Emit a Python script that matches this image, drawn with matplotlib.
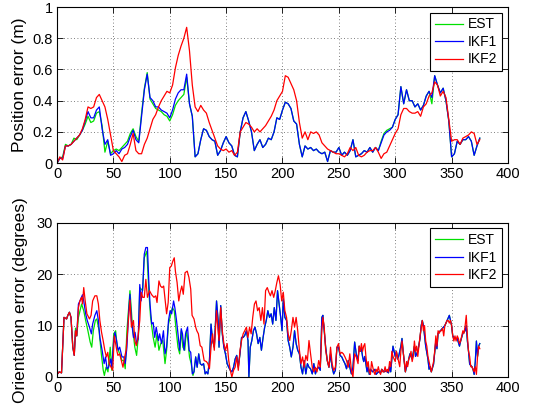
import numpy as np
import matplotlib
matplotlib.use("Agg")
import matplotlib.pyplot as plt

plt.rcParams['font.family'] = ['Liberation Sans', 'DejaVu Sans']

# ---------------- top panel: position error (samples every 2.5 units) ----
t = [2.5 * i for i in range(151)]

pos_est = [
    0.00,0.03,0.04,0.12,0.11,0.12,0.16,0.15,0.18,0.21,
    0.25,0.30,0.26,0.27,0.32,0.33,0.24,0.07,0.14,0.06,
    0.08,0.09,0.08,0.10,0.12,0.14,0.19,0.22,0.17,0.14,
    0.32,0.48,0.58,0.41,0.38,0.35,0.34,0.33,0.31,0.30,
    0.27,0.31,0.37,0.40,0.42,0.44,0.55,0.38,0.30,0.04,
    0.06,0.15,0.22,0.21,0.17,0.15,0.14,0.05,0.08,0.13,
    0.17,0.13,0.11,0.05,0.04,0.20,0.29,0.33,0.27,0.20,
    0.08,0.12,0.15,0.10,0.12,0.16,0.15,0.20,0.29,0.28,
    0.34,0.39,0.38,0.35,0.27,0.25,0.12,0.04,0.11,0.09,
    0.10,0.08,0.09,0.07,0.06,0.07,0.01,0.08,0.07,0.07,
    0.10,0.05,0.07,0.05,0.08,0.15,0.04,0.05,0.06,0.08,
    0.07,0.10,0.07,0.10,0.08,0.14,0.19,0.21,0.22,0.23,
    0.28,0.31,0.49,0.38,0.47,0.40,0.40,0.36,0.38,0.34,
    0.37,0.43,0.46,0.38,0.56,0.50,0.45,0.48,0.40,0.27,
    0.04,0.06,0.14,0.12,0.15,0.15,0.17,0.14,0.05,0.11,
    0.16]

pos_ikf1 = [
    0.00,0.03,0.03,0.11,0.11,0.12,0.14,0.16,0.18,0.21,
    0.27,0.33,0.29,0.29,0.34,0.36,0.22,0.12,0.15,0.05,
    0.06,0.08,0.06,0.09,0.10,0.12,0.17,0.21,0.15,0.13,
    0.30,0.47,0.57,0.42,0.40,0.36,0.36,0.34,0.33,0.32,
    0.29,0.34,0.41,0.45,0.47,0.47,0.57,0.38,0.30,0.04,
    0.06,0.15,0.22,0.21,0.17,0.15,0.14,0.05,0.08,0.13,
    0.17,0.13,0.11,0.05,0.04,0.20,0.29,0.33,0.27,0.20,
    0.08,0.12,0.15,0.10,0.12,0.16,0.15,0.20,0.29,0.28,
    0.34,0.39,0.38,0.35,0.27,0.25,0.12,0.04,0.11,0.09,
    0.10,0.08,0.09,0.07,0.06,0.07,0.01,0.08,0.07,0.07,
    0.10,0.05,0.07,0.05,0.08,0.15,0.04,0.05,0.06,0.08,
    0.07,0.10,0.07,0.10,0.08,0.13,0.18,0.20,0.21,0.23,
    0.28,0.31,0.49,0.38,0.47,0.40,0.40,0.36,0.38,0.34,
    0.37,0.43,0.46,0.42,0.56,0.50,0.45,0.48,0.40,0.27,
    0.04,0.06,0.14,0.12,0.15,0.15,0.17,0.14,0.05,0.11,
    0.16]

pos_ikf2 = [
    0.00,0.04,0.02,0.11,0.11,0.12,0.14,0.16,0.18,0.22,
    0.28,0.36,0.35,0.36,0.42,0.44,0.40,0.36,0.28,0.18,
    0.08,0.06,0.04,0.01,0.05,0.06,0.12,0.19,0.08,0.06,
    0.06,0.12,0.16,0.22,0.28,0.31,0.36,0.40,0.43,0.46,
    0.45,0.50,0.61,0.69,0.75,0.80,0.87,0.72,0.50,0.36,
    0.33,0.37,0.34,0.32,0.26,0.21,0.16,0.11,0.09,0.08,
    0.09,0.07,0.08,0.05,0.07,0.20,0.23,0.26,0.25,0.23,
    0.20,0.22,0.20,0.22,0.24,0.27,0.30,0.34,0.40,0.43,
    0.46,0.56,0.55,0.51,0.47,0.40,0.26,0.16,0.20,0.15,
    0.20,0.19,0.20,0.18,0.13,0.11,0.09,0.08,0.07,0.06,
    0.06,0.05,0.04,0.06,0.10,0.08,0.10,0.05,0.04,0.05,
    0.07,0.08,0.08,0.10,0.07,0.03,0.06,0.07,0.11,0.15,
    0.19,0.22,0.31,0.35,0.35,0.33,0.32,0.32,0.33,0.30,
    0.36,0.38,0.43,0.45,0.52,0.50,0.43,0.46,0.42,0.28,
    0.14,0.15,0.15,0.12,0.16,0.17,0.18,0.20,0.19,0.12,
    0.15]

# ---------------- bottom panel: orientation error, (time, degrees) -------
ori_est_pts = [
    (0,0.5),(2,1),(4,0.8),(6.2,11.6),(8.5,11.3),(9.6,12),(11,12.6),(12.4,11.6),
    (14,5.8),(15.3,4.2),(16.4,9.5),(17.5,8),(19,11.6),(21.8,14.2),(23.7,12.9),
    (25.4,11),(27.4,9),(29.4,6.8),(30.8,5.8),(32.2,9),(34,11),(35.3,11.3),
    (37.3,9),(39.3,4.5),(41,1.3),(42,0.3),(43.5,1.9),(45.2,1),(47.2,5.8),
    (48.6,1.3),(50.3,8.4),(52,9),(53.4,5.8),(55.6,4.5),(57.6,3.2),(59.3,3.2),
    (60.5,1.6),(62,9),(64.7,16.8),(67,9.7),(69,5.8),(70.6,4.2),(72.3,8.4),
    (73.4,17.4),(76,16.8),(77.4,23.2),(79.7,24.5),(81.4,16.8),(83,11.6),
    (85.3,7.7),(87,5.8),(88.7,8.4),(90.4,5.2),(92,6.5),(93.8,7.1),(95.8,2.6),
    (97.2,5.2),(98.9,10.3),(100.3,11.6),(102.3,13.5),(104,12.9),(105.7,9),
    (107.3,5.8),(108.8,4.5),(110.2,9),(111.6,5.8),(113.3,5.2),(114.7,9),
    (116.1,7.1),(117.5,3.9),(119,2.6),(120.6,0.3),(121.5,1),(123,3.9),
    (124.3,1.9),(125.7,4.5),(127,2.6),(128.5,2.3),(130,2.6),(131.4,0.6),
    (132.5,1),(133.8,0.6),(135.2,3.2),(136.6,10.3),(138,7.1),(139.5,5.8),
    (141.5,14.8),(142.9,11),(143.7,5.8),(145.2,13.9),(146.6,8.4),(148,5.8),
    (149.4,4.5),(150.9,2.6),(152.3,1.9),(153.7,1.3),(155.1,1),(156.6,1.9),
    (158,3.5),(159.4,4.2),(160.8,1.9),(162.3,4.5),(163.7,7.7),(165.1,7.7),
    (166.5,8.1),(168,9),(169.4,7.1),(170.2,0),(171.4,5.8),(172.8,7.1),
    (174.2,9),(175.6,9.7),(177,8.4),(178.4,6.5),(179.9,7.7),(181.3,5.2),
    (182.8,7.7),(184.2,9.7),(185.6,11),(187,12.9),(188.5,11.6),(189.9,12.3),
    (191.3,10.3),(192.7,13.5),(194.2,11),(195.6,16.8),(197,14.2),(198.4,11.6),
    (199.6,9),(200.7,15.2),(202.1,11.6),(203.6,11),(205,7.1),(206.4,5.8),
    (207.8,3.9),(209.3,5.8),(210.7,9),(212.1,6.5),(213.5,5.2),(215,4.5),
    (216.4,1.9),(217.8,0.6),(219.2,3.2),(220.7,0.6),(222.1,2.6),(223.5,1.9),
    (224.9,1.6),(226.4,0.6),(227.8,2.6),(229.2,0.6),(230.6,1.6),(232.1,1.9),
    (233.5,1.3),(234.9,11.6),(235.8,12),(237,9),(238.3,5.8),(239.7,3.2),
    (241.2,1.9),(242.6,4.5),(244,1.9),(245.4,0.6),(246.9,1.3),(248.3,5.8),
    (249.7,5.8),(251.1,4.2),(252.6,3.9),(254,3.2),(255.4,2.6),(256.8,1.6),
    (258.3,3.2),(259.7,1.9),(261.1,0.6),(262.5,1.9),(264,6.8),(265.4,4.5),
    (267,3.2),(268,6),(269,5),(270,5.5),(271,4),(272,3),(273,4),(275,1),
    (276,2),(277,0.5),(278,1.5),(280,1),(282,1.5),(283,0.5),(285,1),(287,0.8),
    (288,1.5),(290,1),(292,1.2),(294,0.8),(295,2),(296,1),(298,6),(299,5),
    (300,4),(301,5),(302,3.5),(303,4),(305,6),(306,7.5),(307,5),(308,3),
    (309,1),(310,2),(311,2.5),(312,3.5),(313,4.5),(315,3.5),(317,6),(318,4),
    (320,5),(322,7.5),(323,10),(324,11),(325,10),(326,8),(327,6),(329,3.5),
    (330,1.5),(331,2),(332,1),(334,2.5),(336,7),(337,5.5),(338,8.5),(340,9),
    (342,9.5),(344,10),(345,10.5),(347,11.5),(348,12),(349,11),(350,10),
    (351,8),(353,7.5),(355,7.5),(357,6),(358,7),(360,8.5),(362,9),(363,10),
    (364,7),(365,5),(366,2.5),(368,2),(369,1.5),(370,0.5),(371,3),(372,7),
    (373,4),(374,6),(375,6.5)]

ori_ikf1_pts = [
    (0,0.5),(2,1),(4,0.8),(6.2,11.6),(8.5,11.3),(9.6,12),(11,12.6),(12.4,11.6),
    (14,5.8),(15.3,4.2),(16.4,9),(17.5,8),(19,14.2),(20.3,14.8),(22.6,16),
    (23.7,14.8),(25.4,12.3),(26.8,11),(28.8,9.7),(30.5,8.4),(31.6,10.3),
    (33.6,12),(35.3,12.9),(36.7,11),(38,7.7),(40,5.2),(41.8,2.6),(43,3.9),
    (44.4,1.6),(45.8,1.9),(47.5,3.5),(48.6,1.9),(50.3,7.1),(51.4,8.7),
    (52.8,7.1),(54.2,5.2),(55.6,5.8),(57.6,3.9),(59.3,3.9),(60.5,2.6),(62,5.8),
    (63.6,12.9),(64.7,16.1),(66,11),(67.8,7.7),(69.2,8.7),(70.6,6.5),(72,7.4),
    (73.4,18),(74.6,14.8),(76,17.4),(77.4,23.9),(78.8,25.2),(80.2,25.2),
    (81.4,18.7),(82.5,14.2),(84,10.3),(85.3,10.6),(86.7,7.7),(88,9.7),(90,7.1),
    (91,8.4),(92.7,6.5),(94.4,9),(95.8,4.5),(97.2,5.8),(98.9,11),(100.3,12.9),
    (101.7,12.3),(103.4,14.8),(104.5,13.5),(106,11),(107.3,8.4),(108.8,5.2),
    (110.2,9.4),(111.3,8.4),(112.7,5.2),(114,8.4),(115.8,9.7),(117.2,5.2),
    (118.6,4.8),(120,0.6),(121.5,1),(123,3.9),(124.3,1.9),(125.7,4.5),
    (127,2.6),(128.5,2.3),(130,2.6),(131.4,0.6),(132.5,1),(133.8,0.6),
    (135.2,3.2),(136.6,10.3),(138,7.1),(139.5,5.8),(141.5,14.8),(142.9,11),
    (143.7,5.8),(145.2,13.9),(146.6,8.4),(148,5.8),(149.4,4.5),(150.9,2.6),
    (152.3,1.9),(153.7,1.3),(155.1,1),(156.6,1.9),(158,3.5),(159.4,4.2),
    (160.8,1.9),(162.3,4.5),(163.7,7.7),(165.1,7.7),(166.5,8.1),(168,9),
    (169.4,7.1),(170.2,0),(171.4,5.8),(172.8,7.1),(174.2,9),(175.6,9.7),
    (177,8.4),(178.4,6.5),(179.9,7.7),(181.3,5.2),(182.8,7.7),(184.2,9.7),
    (185.6,11),(187,12.9),(188.5,11.6),(189.9,12.3),(191.3,10.3),(192.7,13.5),
    (194.2,11),(195.6,16.8),(197,14.2),(198.4,11.6),(199.6,9),(200.7,15.2),
    (202.1,11.6),(203.6,11),(205,7.1),(206.4,5.8),(207.8,3.9),(209.3,5.8),
    (210.7,9),(212.1,6.5),(213.5,5.2),(215,4.5),(216.4,1.9),(217.8,0.6),
    (219.2,3.2),(220.7,0.6),(222.1,2.6),(223.5,1.9),(224.9,1.6),(226.4,0.6),
    (227.8,2.6),(229.2,0.6),(230.6,1.6),(232.1,1.9),(233.5,1.3),(234.9,11.6),
    (235.8,12),(237,9),(238.3,5.8),(239.7,3.2),(241.2,1.9),(242.6,4.5),
    (244,1.9),(245.4,0.6),(246.9,1.3),(248.3,5.8),(249.7,5.8),(251.1,4.2),
    (252.6,3.9),(254,3.2),(255.4,2.6),(256.8,1.6),(258.3,3.2),(259.7,1.9),
    (261.1,0.6),(262.5,1.9),(264,6.8),(265.4,4.5),(267,3.2),(268,6),(269,5),
    (270,5.5),(271,4),(272,3),(273,4),(275,1),(276,2),(277,0.5),(278,1.5),
    (280,1),(282,1.5),(283,0.5),(285,1),(287,0.8),(288,1.5),(290,1),(292,1.2),
    (294,0.8),(295,2),(296,1),(298,6),(299,5),(300,4),(301,5),(302,3.5),
    (303,4),(305,6),(306,7.5),(307,5),(308,3),(309,1),(310,2),(311,2.5),
    (312,3.5),(313,4.5),(315,3.5),(317,6),(318,4),(320,5),(322,7.5),(323,10),
    (324,11),(325,10),(326,8),(327,6),(329,3.5),(330,1.5),(331,2),(332,1),
    (334,2.5),(336,7),(337,5.5),(338,8.5),(340,9),(342,9.5),(344,10),
    (345,10.5),(347,11.5),(348,12),(349,11),(350,10),(351,8),(353,7.5),
    (355,7.5),(357,6),(358,7),(360,8.5),(362,9),(363,10),(364,7),(365,5),
    (366,2.5),(368,2),(369,1.5),(370,0.5),(371,3),(372,7),(373,4),(374,6),
    (375,6.5)]

ori_ikf2_pts = [
    (0,0.5),(2,1),(4,0.8),(6.2,11.6),(8.5,11.3),(9.6,12),(11,12.6),(12.4,11.6),
    (14,5.8),(15.3,4.2),(16.4,9),(17.5,8),(19,13.5),(20.3,14.8),(21.8,15.5),
    (22.6,14.2),(23.7,17.4),(25,14.8),(26.5,12.3),(28.8,11.3),(30.2,12),
    (31.6,14.8),(33.6,15.8),(35.3,15.8),(36.7,14.2),(38,11),(39.5,8.7),(41,7),
    (42.4,5.2),(43.8,3.9),(45,4.8),(46.3,2.6),(48,1.9),(49.4,1.3),(50.8,8),
    (53,5.2),(54,4.2),(55.6,4.5),(57,3.2),(58.5,1.9),(60,3.9),(61.3,5.2),
    (63.3,11),(64.7,15),(66,9.7),(67.8,11),(69,7.1),(70.3,6.1),(71.8,7.7),
    (73.4,11),(74.6,16.5),(76,15.5),(77.4,15.5),(78.8,19),(80.2,15.5),
    (82,16.8),(84,16),(86,15.5),(87.6,15.8),(88.7,14.5),(90.4,18.7),
    (91.8,17.7),(93.2,17.4),(94.6,17.7),(96,14.8),(97.2,12.3),(98.6,14.5),
    (100,21.3),(101.4,21.6),(102.8,22.6),(104,23.2),(105,20.6),(106.5,18.4),
    (108,14.8),(109.3,16.5),(110.7,17.7),(112,16.1),(113.6,20.3),(115.5,20.6),
    (117,19.4),(118.6,17.1),(119.8,12),(121.5,11.3),(123,9.7),(124,9),
    (125.4,8.4),(127,6.1),(128.5,5.8),(130.5,3.2),(132.5,3),(133.8,2.6),
    (135.2,1.6),(136.6,5.8),(138,8.4),(139.5,5.2),(141.5,12.9),(142.9,9),
    (143.7,7.1),(145.2,13.5),(146.6,9),(148,6.5),(149.4,5.2),(150.9,6.5),
    (152.3,3.2),(153.7,1.3),(155.1,0),(156.6,1.3),(158,1.9),(159.4,3.9),
    (160.8,1.3),(162.3,5.2),(163.7,7.1),(165.1,8.4),(166.5,9),(168,9.7),
    (169.4,7.7),(170.8,9.7),(172.2,8.4),(173.6,11.6),(175.1,14.2),(176.5,14.8),
    (177.9,12.9),(179.3,13.5),(180.8,11),(182.2,13.5),(183.6,10.3),(185,16.8),
    (186.5,17.4),(187.9,16.5),(189.3,15.8),(190.7,16.8),(192.2,15.5),
    (193.6,16.8),(195,18.4),(196.4,19.7),(197.9,18),(199.3,14.8),(200.7,16.5),
    (202.1,12.9),(203.6,11.6),(205,8.4),(206.4,7.1),(207.8,9),(209.3,11.6),
    (210.7,9.7),(212.1,11.6),(213.5,9),(215,5.2),(216.4,2.6),(217.8,3.9),
    (219.2,1.9),(220.7,4.2),(222.1,3.2),(223.5,7.1),(224.9,4.5),(226.4,1.9),
    (227.8,1),(229.2,1.9),(230.6,1),(232.1,3.2),(233.5,1.9),(234.9,9),
    (235.8,11.6),(237,9.7),(238.3,5.2),(239.7,3.2),(241.2,1.9),(242.6,5.8),
    (244,2.6),(245.4,1.3),(246.9,1.9),(248.3,5.8),(249.7,6.5),(251.1,4.5),
    (252.6,4.8),(254,4.5),(255.4,3.9),(256.8,3.2),(258.3,1.9),(259.7,4.5),
    (261.1,1.3),(262.5,0),(264,4.5),(265.4,3.9),(267,2.6),(268,6),(269,5),
    (270,6.5),(271,5),(272,6),(273,6.5),(274,4),(275,2),(276,3),(277,1),
    (278,0.5),(279,3),(280,2),(281,1),(282,0.5),(283,1.5),(284,1),(285,2),
    (286,1),(287,0.5),(288,1.5),(289,1),(290,1),(291,2),(292,1),(293,1.5),
    (294,1),(295,3),(296,2),(297,5),(298,4),(299,3.5),(300,3),(301,5),(302,4),
    (303,3),(304,2),(305,5),(306,7),(307,5),(308,3),(309,1),(310,3),(311,2),
    (312,3.5),(313,4),(314,5),(315,3),(316,4),(317,7),(318,5),(319,6),(320,4),
    (321,6),(322,8),(323,9.5),(324,11),(325,9),(326,10),(327,7),(328,6),
    (329,4),(330,3),(331,2),(332,1),(333,2),(334,3),(335,5),(336,8),(337,6),
    (338,9),(339,8.5),(340,9),(341,9),(342,9.5),(343,8),(344,10),(345,10.5),
    (346,11),(347,11),(348,10.5),(349,11),(350,10),(351,8),(352,7),(353,8),
    (354,7),(355,8),(356,7.5),(357,6.5),(358,7),(359,8),(360,9),(361,8.5),
    (362,10),(363,12),(364,8),(365,5),(366,4),(367,2),(368,2),(369,1.5),
    (370,1),(371,2),(372,0.5),(373,4),(374,6),(375,5.5)]

labels = ['EST', 'IKF1', 'IKF2']
colors = ['#00e000', '#0000ff', '#ff0000']
xticks = [0, 50, 100, 150, 200, 250, 300, 350, 400]
pos_yticks = [0, 0.2, 0.4, 0.6, 0.8, 1]
pos_yticklabels = ['0', '0.2', '0.4', '0.6', '0.8', '1']
ori_yticks = [0, 10, 20, 30]

fig = plt.figure(figsize=(5.43, 4.15), dpi=100)
ax1 = fig.add_axes([0.105, 0.607, 0.8305, 0.376])
ax2 = fig.add_axes([0.105, 0.0916, 0.8305, 0.3714])

def style(ax):
    ax.set_xlim(0, 400)
    ax.set_xticks(xticks)
    ax.grid(True, linestyle=(0, (1, 3)), color='#555555', linewidth=0.6)
    ax.tick_params(direction='in', top=True, right=True, labelsize=10.5,
                   length=4, width=0.6, pad=3)
    for s in ax.spines.values():
        s.set_linewidth(0.8)
    leg = ax.legend(loc='upper right', fontsize=10, fancybox=False,
                    framealpha=1, edgecolor='black', handlelength=2.0,
                    borderaxespad=0.4, borderpad=0.35, labelspacing=0.25,
                    handletextpad=0.4)
    leg.get_frame().set_linewidth(0.8)

for vals, lab, c in zip([pos_est, pos_ikf1, pos_ikf2], labels, colors):
    ax1.plot(t, vals, color=c, linewidth=0.9, label=lab)
ax1.set_ylim(0, 1)
ax1.set_yticks(pos_yticks)
ax1.set_yticklabels(pos_yticklabels)
ax1.set_ylabel('Position error (m)', fontsize=12.5, labelpad=4)
style(ax1)

for pts, lab, c in zip([ori_est_pts, ori_ikf1_pts, ori_ikf2_pts], labels, colors):
    xs, ys = zip(*pts)
    ax2.plot(xs, ys, color=c, linewidth=0.9, label=lab)
ax2.set_ylim(0, 30)
ax2.set_yticks(ori_yticks)
ax2.set_ylabel('Orientation error (degrees)', fontsize=12.5, labelpad=6)
style(ax2)

fig.savefig('out.png', dpi=100)
